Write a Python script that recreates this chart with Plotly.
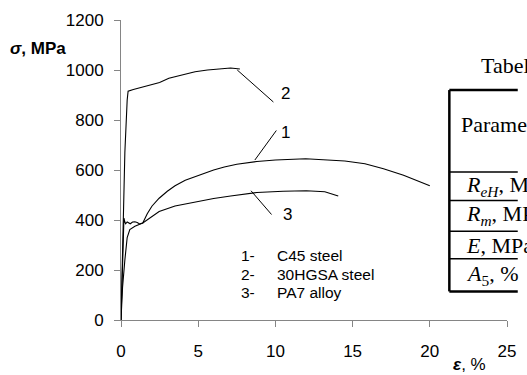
import plotly.graph_objects as go

# Tensile test curves: strain (%) and stress (MPa)
eps_c45 = [0, 0.1, 0.19, 0.25, 0.3, 0.4, 0.5, 0.6, 0.75, 0.9, 1.05, 1.2, 1.41, 1.7, 2.0, 2.47,
           3.0, 3.5, 4.16, 5.0, 6.0, 6.69, 7.5, 8.8, 10.0, 11.96, 13.2, 14.5, 15.8, 17.0,
           18.3, 19.2, 20.0]
sig_c45 = [0, 200, 408, 392, 385, 392, 390, 385, 392, 393, 390, 384, 388, 425, 455, 487,
           515, 537, 559, 579, 600, 612, 623, 634, 640, 645, 642, 636, 625, 605,
           579, 558, 537]

eps_30hgsa = [0, 0.25, 0.40, 0.46, 0.8, 1.8, 2.5, 3.1, 4.0, 4.8, 5.6, 6.5, 7.1, 7.7]
sig_30hgsa = [0, 670, 880, 915, 922, 937, 950, 967, 982, 993, 1000, 1004, 1008, 1004]

eps_pa7 = [0, 0.1, 0.25, 0.4, 0.57, 0.9, 1.41, 2.0, 2.47, 3.5, 5.0, 6.0, 7.1, 8.8, 10.5,
           12.0, 13.2, 13.7, 14.07]
sig_pa7 = [0, 130, 240, 330, 362, 375, 388, 415, 434, 456, 474, 486, 496, 510, 515,
           517, 513, 505, 496]

x_ticks = [0, 5, 10, 15, 20, 25]
y_ticks = [0, 200, 400, 600, 800, 1000, 1200]

curve_labels = ["1", "2", "3"]
legend_nums = ["1-", "2-", "3-"]
legend_names = ["C45 steel", "30HGSA steel", "PA7 alloy"]

table_caption = "Tabela 1"
table_header = "Parametr"
table_rows = ["<i>R</i><sub><i>eH</i></sub>, MPa", "<i>R</i><sub><i>m</i></sub>, MPa",
              "<i>E</i>, MPa", "<i>A</i><sub>5</sub>, %"]

SANS = "Liberation Sans, Arial, sans-serif"
SERIF = "Liberation Serif, Times New Roman, serif"

# plot area in pixels
L, R, T, B = 121, 516, 16, 320
W, H = 527, 375


def px(x):
    return (x - L) / (R - L)


def py(y):
    return (B - y) / (B - T)


fig = go.Figure()
line = dict(color="black", width=1.1)
for xs, ys in [(eps_c45, sig_c45), (eps_30hgsa, sig_30hgsa), (eps_pa7, sig_pa7)]:
    fig.add_trace(go.Scatter(x=xs, y=ys, mode="lines", line=line, showlegend=False,
                             hoverinfo="skip"))

shapes = []
# leader lines from curves to their numbers
leaders = [((8.67, 640), (10.06, 758)), ((7.53, 1000), (9.87, 872)), ((8.42, 517), (9.75, 422))]
for (x0, y0), (x1, y1) in leaders:
    shapes.append(dict(type="line", xref="x", yref="y", x0=x0, y0=y0, x1=x1, y1=y1,
                       line=dict(color="black", width=1)))

annotations = []
label_pos = [(10.25, 750), (10.25, 905), (10.35, 422)]
for t, (x, y) in zip(curve_labels, label_pos):
    annotations.append(dict(x=x, y=y, xref="x", yref="y", text=t, showarrow=False,
                            xanchor="left", yanchor="middle",
                            font=dict(family=SANS, size=17, color="black")))

for i, (n, name) in enumerate(zip(legend_nums, legend_names)):
    yy = 255 + i * 18.5
    annotations.append(dict(x=px(242), y=py(yy), xref="paper", yref="paper", text=n,
                            showarrow=False, xanchor="left", yanchor="middle",
                            font=dict(family=SANS, size=15.5, color="black")))
    annotations.append(dict(x=px(279), y=py(yy), xref="paper", yref="paper", text=name,
                            showarrow=False, xanchor="left", yanchor="middle",
                            font=dict(family=SANS, size=15.5, color="black")))

# axis titles
annotations.append(dict(x=px(5), y=py(45), xref="paper", yref="paper",
                        text="<b><i>σ</i>, MPa</b>", showarrow=False, xanchor="left",
                        yanchor="middle", font=dict(family=SANS, size=17, color="black")))
annotations.append(dict(x=px(459), y=py(365), xref="paper", yref="paper",
                        text="<b><i>ε</i></b>, %", showarrow=False, xanchor="left",
                        yanchor="middle", font=dict(family=SANS, size=17, color="black")))

# parameter table at the right edge
annotations.append(dict(x=px(487), y=py(62), xref="paper", yref="paper", text=table_caption,
                        showarrow=False, xanchor="left", yanchor="middle",
                        font=dict(family=SERIF, size=22, color="black")))
annotations.append(dict(x=px(467), y=py(122), xref="paper", yref="paper", text=table_header,
                        showarrow=False, xanchor="left", yanchor="middle",
                        font=dict(family=SERIF, size=22, color="black")))
row_y = [184, 214, 244, 274]
for t, yy in zip(table_rows, row_y):
    annotations.append(dict(x=px(472), y=py(yy), xref="paper", yref="paper", text=t,
                            showarrow=False, xanchor="left", yanchor="middle",
                            font=dict(family=SERIF, size=22, color="black")))

tx0, tx1, ty0, ty1 = 457, 527, 87, 291
outer = dict(color="black", width=2.5)
inner = dict(color="black", width=1.5)
shapes.append(dict(type="line", xref="paper", yref="paper", x0=px(tx0), x1=px(tx1),
                   y0=py(ty0), y1=py(ty0), line=outer))
shapes.append(dict(type="line", xref="paper", yref="paper", x0=px(tx0), x1=px(tx1),
                   y0=py(ty1), y1=py(ty1), line=outer))
shapes.append(dict(type="line", xref="paper", yref="paper", x0=px(tx0), x1=px(tx0),
                   y0=py(ty0), y1=py(ty1), line=outer))
for yy in [170, 199, 230, 258]:
    shapes.append(dict(type="line", xref="paper", yref="paper", x0=px(tx0), x1=px(tx1),
                       y0=py(yy), y1=py(yy), line=inner))

axis_common = dict(showgrid=False, zeroline=False, showline=True, linecolor="#858585",
                   linewidth=1, ticks="outside", ticklen=6, tickcolor="#858585",
                   tickwidth=1, tickfont=dict(family=SANS, size=17, color="black"))

fig.update_layout(
    width=W, height=H, autosize=False,
    margin=dict(l=L, r=W - R, t=T, b=H - B, pad=0),
    plot_bgcolor="white", paper_bgcolor="white",
    xaxis=dict(range=[0, 25], tickvals=x_ticks, ticklabelstandoff=10, **axis_common),
    yaxis=dict(range=[0, 1200], tickvals=y_ticks, ticklabelstandoff=7, **axis_common),
    shapes=shapes, annotations=annotations,
)

fig.write_html("out.html", config={"displayModeBar": False})
